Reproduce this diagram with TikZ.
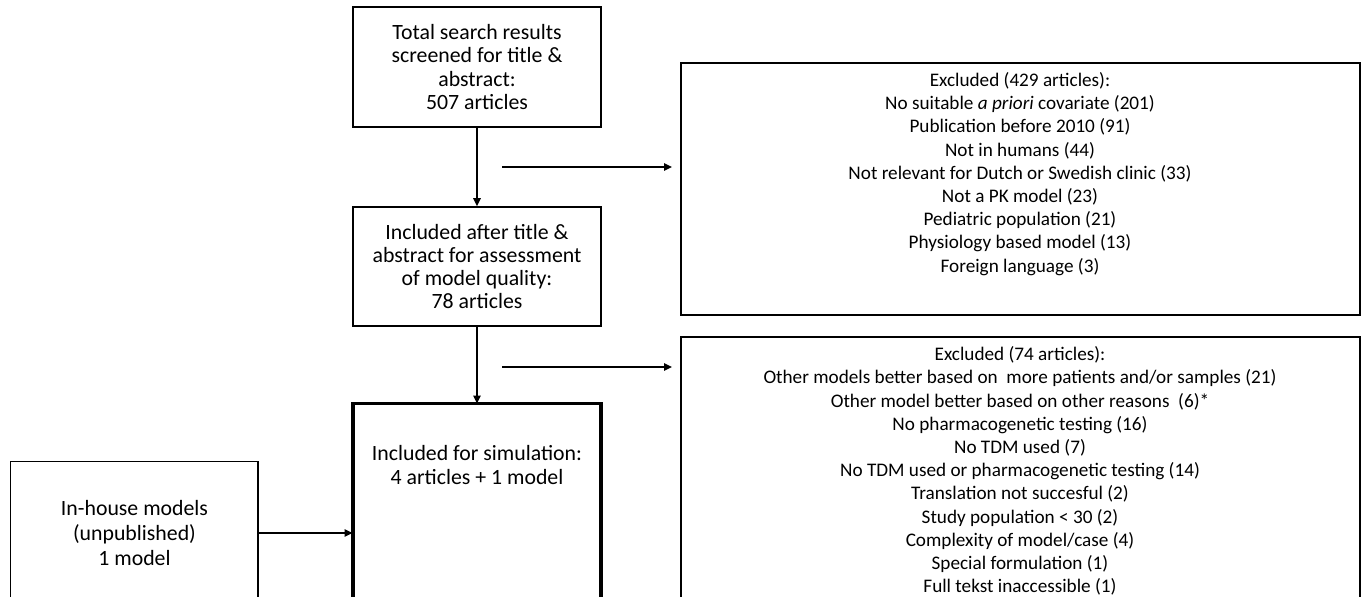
\documentclass[tikz,border=0pt]{standalone}
\usepackage{fontspec}
\setmainfont{Carlito}
\usetikzlibrary{arrows.meta}
\begin{document}
\begin{tikzpicture}[x=0.5pt,y=-0.5pt,
  txt/.style={align=center, inner sep=0pt, font=\fontsize{10.9}{11.6}\selectfont},
  smalltxt/.style={align=center, inner sep=0pt, font=\fontsize{9.6}{11.6}\selectfont},
  box/.style={txt, draw, line width=0.75pt},
  thickbox/.style={draw, line width=1.9pt},
  arr/.style={line width=1pt, -{Triangle[length=4pt,width=3.6pt]}}]
\useasboundingbox (0,0) rectangle (1362,597);
\clip (0,0) rectangle (1362,597);
% main column
\node[box, minimum width=124pt, minimum height=60pt] (b1) at (477,67)
  {Total search results\\screened for title \&\\abstract:\\507 articles};
\node[box, minimum width=124pt, minimum height=59.5pt] (b2) at (477,266.5)
  {Included after title \&\\abstract for assessment\\of model quality:\\78 articles};
\node[txt, minimum width=124pt, minimum height=61pt] (b3) at (477,465)
  {Included for simulation:\\4 articles + 1 model};
\draw[thickbox] (b3.north west) rectangle (601,640);
% left box
\node[txt, minimum width=123.5pt, minimum height=71pt, font=\fontsize{10.9}{12.5}\selectfont] (lb) at (134.5,533)
  {In-house models\\(unpublished)\\1 model};
\draw[line width=0.75pt] (lb.north west) rectangle (258,640);
% exclusion boxes
\node[draw, line width=0.75pt, minimum width=339.5pt, minimum height=126pt, inner sep=0pt] (ex1) at (1020.5,189) {};
\node[smalltxt] (ex1t) at (1020,174) {Excluded (429 articles):\\
No suitable \textit{a priori} covariate (201)\\
Publication before 2010 (91)\\
Not in humans (44)\\
Not relevant for Dutch or Swedish clinic (33)\\
Not a PK model (23)\\
Pediatric population (21)\\
Physiology based model (13)\\
Foreign language (3)};
\draw[line width=0.75pt] (681,337) rectangle (1360,640);
\node[smalltxt] (ex2t) at (1020,471) {Excluded (74 articles):\\
Other models better based on\ \ more patients and/or samples (21)\\
Other model better based on other reasons\ \ (6)*\\
No pharmacogenetic testing (16)\\
No TDM used (7)\\
No TDM used or pharmacogenetic testing (14)\\
Translation not succesful (2)\\
Study population < 30 (2)\\
Complexity of model/case (4)\\
Special formulation (1)\\
Full tekst inaccessible (1)};
% connectors
\coordinate (a1s) at (502,167);
\coordinate (a1e) at (672,167);
\coordinate (a2s) at (502,367);
\coordinate (a2e) at (672,367);
\draw[arr] (b1.south) -- (b2.north);
\draw[arr] (b2.south) -- (b3.north);
\draw[arr] (lb.east) -- (lb.east -| b3.west);
\draw[arr] (a1s) -- (a1e);
\draw[arr] (a2s) -- (a2e);
\end{tikzpicture}
\end{document}
